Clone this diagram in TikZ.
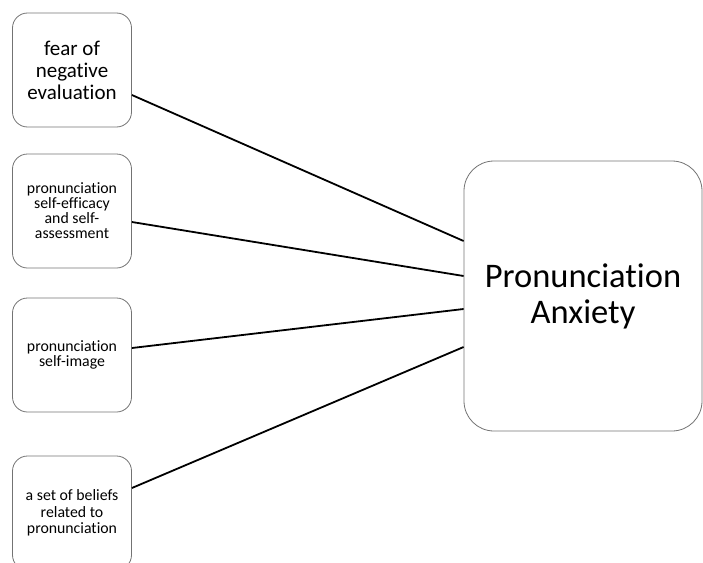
\documentclass[tikz,border=0pt]{standalone}
\usepackage{fontspec}
\setmainfont[Ligatures=NoCommon]{Carlito}
\usepackage{tikz}
\usetikzlibrary{positioning}

\begin{document}
\begin{tikzpicture}[x=1pt, y=-1pt,
    factor/.style={draw=black!55, line width=0.8pt, rounded corners=15pt,
        minimum width=119pt, minimum height=114pt, align=center, inner sep=2pt},
    outcome/.style={draw=black!55, line width=0.8pt, rounded corners=30pt,
        minimum width=238pt, minimum height=270pt, align=center},
    link/.style={line width=1.8pt}]
        \useasboundingbox (0,0) rectangle (703,562);
        \clip (0,0) rectangle (703,562);

        % Factors on the left
        \node[factor, font=\fontsize{21}{22}\selectfont] (fear) at (72,70)
            {fear of\\negative\\evaluation};
        \node[factor, font=\fontsize{15.8}{15}\selectfont] (efficacy) at (72,211)
            {pronunciation\\self-efficacy\\and self-\\assessment};
        \node[factor, font=\fontsize{15.8}{15}\selectfont] (selfimage) at (72,355)
            {pronunciation\\self-image};
        \node[factor, font=\fontsize{15.8}{16.5}\selectfont] (beliefs) at (72,513)
            {a set of beliefs\\related to\\pronunciation};

        % Pronunciation Anxiety
        \node[outcome, font=\fontsize{34.5}{36}\selectfont] (anxiety) at (583,296)
            {Pronunciation\\Anxiety};

        % Links
        \draw[link] ([yshift=-25pt]fear.east) -- ([yshift=55pt]anxiety.west);
        \draw[link] ([yshift=-11pt]efficacy.east) -- ([yshift=20pt]anxiety.west);
        \draw[link] ([yshift=7pt]selfimage.east) -- ([yshift=-13pt]anxiety.west);
        \draw[link] ([yshift=25pt]beliefs.east) -- ([yshift=-51pt]anxiety.west);
\end{tikzpicture}
\end{document}
